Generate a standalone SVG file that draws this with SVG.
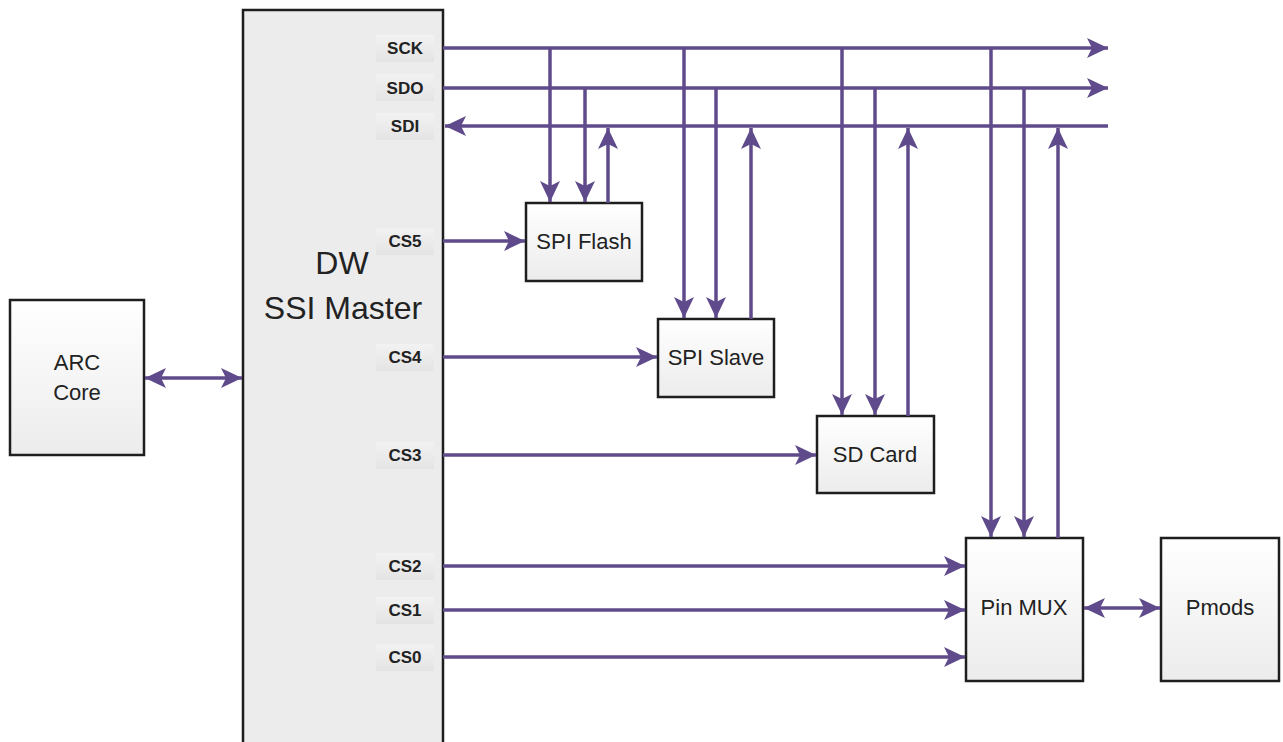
<svg xmlns="http://www.w3.org/2000/svg" width="1283" height="742" viewBox="0 0 1283 742">
<defs>
<linearGradient id="g" x1="0" y1="0" x2="0" y2="1">
<stop offset="0" stop-color="#ffffff"/><stop offset="1" stop-color="#ececec"/>
</linearGradient>
<linearGradient id="lg" x1="0" y1="0" x2="0" y2="1">
<stop offset="0" stop-color="#f2f2f2"/><stop offset="1" stop-color="#e4e4e4"/>
</linearGradient>
<marker id="a" markerUnits="userSpaceOnUse" markerWidth="24" markerHeight="20" refX="21" refY="10" orient="auto-start-reverse">
<path d="M0,0 L21,10 L0,20 L5,10 Z" fill="#5f4b8b"/>
</marker>
</defs>
<style>
.box{fill:url(#g);stroke:#1e1e1e;stroke-width:2.5}
.t{font-family:"Liberation Sans",Arial,sans-serif;font-size:22px;fill:#222;text-anchor:middle}
.pin{font-family:"Liberation Sans",Arial,sans-serif;font-size:17px;font-weight:bold;fill:#222;text-anchor:middle}
.pb{fill:url(#lg)}
.w{stroke:#5f4b8b;stroke-width:3.5;fill:none}
</style>
<rect width="1283" height="742" fill="#fff"/>
<g id="dw">
<rect x="243" y="10" width="200" height="740" fill="#ececec" stroke="#1e1e1e" stroke-width="2.5"/>
<text class="t" x="342" y="274" style="font-size:32px">DW</text>
<text class="t" x="343" y="319" style="font-size:32px">SSI Master</text>
<rect class="pb" x="376" y="35" width="58" height="27"/><text class="pin" x="405" y="54">SCK</text>
<rect class="pb" x="376" y="74" width="58" height="27"/><text class="pin" x="405" y="94">SDO</text>
<rect class="pb" x="376" y="113" width="58" height="27"/><text class="pin" x="405" y="132">SDI</text>
<rect class="pb" x="376" y="228" width="58" height="27"/><text class="pin" x="405" y="247">CS5</text>
<rect class="pb" x="376" y="344" width="58" height="27"/><text class="pin" x="405" y="363">CS4</text>
<rect class="pb" x="376" y="442" width="58" height="27"/><text class="pin" x="405" y="461">CS3</text>
<rect class="pb" x="376" y="553" width="58" height="27"/><text class="pin" x="405" y="572">CS2</text>
<rect class="pb" x="376" y="597" width="58" height="27"/><text class="pin" x="405" y="616">CS1</text>
<rect class="pb" x="376" y="644" width="58" height="27"/><text class="pin" x="405" y="663">CS0</text>
</g>
<g id="arc"><rect class="box" x="10" y="300" width="134" height="155"/>
<text class="t" x="77" y="370">ARC</text><text class="t" x="77" y="400">Core</text></g>
<g id="flash"><rect class="box" x="526" y="203" width="116" height="78"/><text class="t" x="584" y="249">SPI Flash</text></g>
<g id="slave"><rect class="box" x="658" y="319" width="116" height="78"/><text class="t" x="716" y="365">SPI Slave</text></g>
<g id="sd"><rect class="box" x="817" y="416" width="117" height="77"/><text class="t" x="875" y="462">SD Card</text></g>
<g id="mux"><rect class="box" x="966" y="538" width="117" height="143"/><text class="t" x="1024" y="615">Pin MUX</text></g>
<g id="pmods"><rect class="box" x="1161" y="538" width="118" height="143"/><text class="t" x="1220" y="615">Pmods</text></g>
<g id="connectors" class="w">
<path class="w" d="M443,48 H1108" marker-end="url(#a)"/>
<path class="w" d="M443,88 H1108" marker-end="url(#a)"/>
<path class="w" d="M1108,126 H445" marker-end="url(#a)"/>
<path class="w" d="M550,48 V202" marker-end="url(#a)"/>
<path class="w" d="M585,88 V202" marker-end="url(#a)"/>
<path class="w" d="M608,203 V128" marker-end="url(#a)"/>
<path class="w" d="M684,48 V318" marker-end="url(#a)"/>
<path class="w" d="M716,88 V318" marker-end="url(#a)"/>
<path class="w" d="M751,319 V128" marker-end="url(#a)"/>
<path class="w" d="M842,48 V415" marker-end="url(#a)"/>
<path class="w" d="M875,88 V415" marker-end="url(#a)"/>
<path class="w" d="M908,416 V128" marker-end="url(#a)"/>
<path class="w" d="M991,48 V537" marker-end="url(#a)"/>
<path class="w" d="M1024,88 V537" marker-end="url(#a)"/>
<path class="w" d="M1058,538 V128" marker-end="url(#a)"/>
<path class="w" d="M443,241 H525" marker-end="url(#a)"/>
<path class="w" d="M443,357 H657" marker-end="url(#a)"/>
<path class="w" d="M443,455 H816" marker-end="url(#a)"/>
<path class="w" d="M443,566 H965" marker-end="url(#a)"/>
<path class="w" d="M443,610 H965" marker-end="url(#a)"/>
<path class="w" d="M443,657 H965" marker-end="url(#a)"/>
<path class="w" d="M145,378 H242" marker-start="url(#a)" marker-end="url(#a)"/>
<path class="w" d="M1084,608 H1160" marker-start="url(#a)" marker-end="url(#a)"/>
</g>
</svg>
